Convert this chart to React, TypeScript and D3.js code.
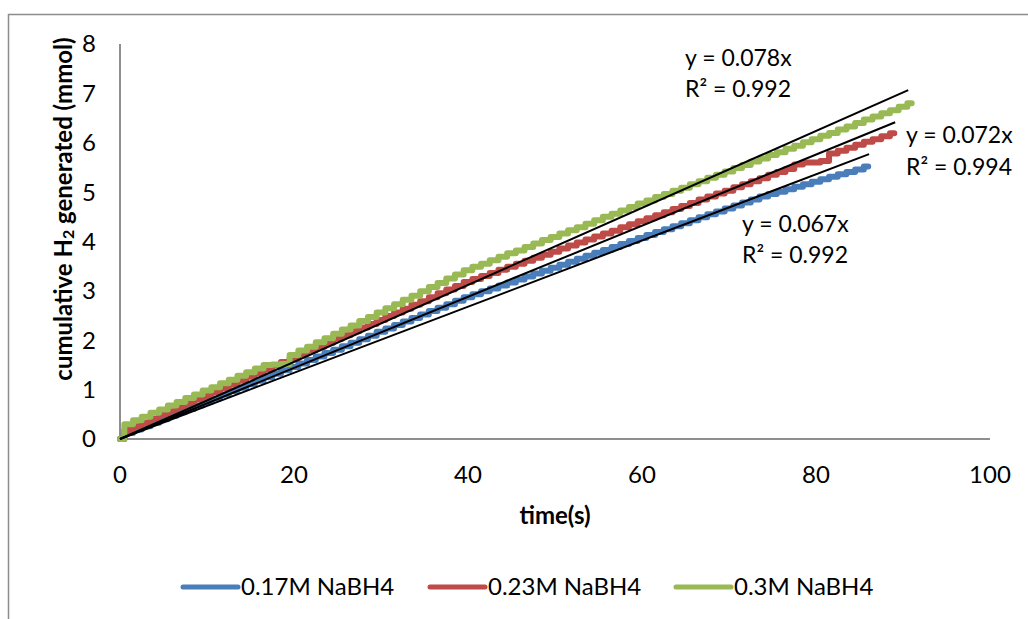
import React from "react";
import * as d3 from "d3";

const W = 1028;
const H = 619;

const blueVals = [0,0.12,0.19,0.26,0.33,0.40,0.47,0.54,0.61,0.68,0.75,0.82,0.90,0.97,1.04,1.11,1.18,1.25,1.32,1.39,1.46,1.53,1.60,1.67,1.74,1.81,1.88,1.95,2.02,2.09,2.17,2.24,2.31,2.38,2.45,2.52,2.59,2.66,2.73,2.80,2.87,2.93,2.99,3.05,3.11,3.17,3.23,3.29,3.35,3.41,3.47,3.53,3.59,3.65,3.71,3.77,3.83,3.89,3.95,4.01,4.07,4.13,4.19,4.25,4.31,4.37,4.43,4.49,4.55,4.61,4.67,4.73,4.79,4.85,4.91,4.96,5.01,5.06,5.11,5.16,5.21,5.26,5.31,5.36,5.41,5.46,5.52];
const redVals = [0,0.18,0.26,0.33,0.41,0.49,0.56,0.64,0.72,0.80,0.87,0.95,1.03,1.10,1.18,1.26,1.33,1.41,1.49,1.56,1.64,1.72,1.80,1.87,1.95,2.03,2.10,2.18,2.26,2.33,2.41,2.49,2.56,2.64,2.72,2.79,2.87,2.95,3.03,3.10,3.18,3.24,3.30,3.36,3.43,3.49,3.55,3.61,3.67,3.73,3.79,3.86,3.92,3.98,4.04,4.10,4.16,4.22,4.29,4.35,4.41,4.47,4.53,4.59,4.66,4.72,4.78,4.85,4.91,4.97,5.03,5.10,5.16,5.22,5.28,5.35,5.41,5.47,5.56,5.60,5.60,5.63,5.78,5.84,5.90,5.96,6.02,6.07,6.13,6.19];
const greenVals = [0,0.30,0.38,0.45,0.53,0.60,0.68,0.75,0.83,0.90,0.98,1.05,1.13,1.20,1.28,1.35,1.43,1.50,1.51,1.52,1.70,1.79,1.87,1.96,2.04,2.13,2.22,2.30,2.39,2.47,2.56,2.65,2.73,2.82,2.90,2.99,3.08,3.16,3.25,3.33,3.42,3.49,3.55,3.62,3.69,3.76,3.82,3.89,3.96,4.03,4.09,4.16,4.23,4.29,4.36,4.43,4.50,4.56,4.63,4.70,4.77,4.83,4.90,4.96,5.03,5.09,5.16,5.22,5.29,5.35,5.42,5.49,5.55,5.62,5.68,5.75,5.81,5.88,5.94,6.01,6.07,6.14,6.20,6.27,6.33,6.40,6.47,6.53,6.60,6.66,6.73,6.80];

const seriesNames = ["0.17M NaBH4", "0.23M NaBH4", "0.3M NaBH4"];
const seriesColors = ["#4A7EBB", "#BE4B48", "#98B954"];
const slopes = [0.067, 0.072, 0.078];
const r2 = ["0.992", "0.994", "0.992"];
const trendEnd = [86.1, 89.1, 90.6];
const xTicks = [0, 20, 40, 60, 80, 100];
const yTicks = [0, 1, 2, 3, 4, 5, 6, 7, 8];

const FONT = "Lato, 'Open Sans', sans-serif";

export default function App() {
  const x = d3.scaleLinear().domain([0, 100]).range([120, 990]);
  const y = d3.scaleLinear().domain([0, 8]).range([439, 44]);
  const all = [blueVals, redVals, greenVals];
  const line = d3
    .line<number>()
    .x((_, i) => x(i))
    .y((d) => y(d))
    .curve(d3.curveStep);

  const labelPos = [
    { x: 742, y1: 232, y2: 263 },
    { x: 906, y1: 143, y2: 175 },
    { x: 685, y1: 66, y2: 97 },
  ];
  const legendX = [183, 430, 676];

  return (
    <svg
      width={W}
      height={H}
      style={{ position: "absolute", left: 0, top: 0, background: "#fff" }}
      fontFamily={FONT}
    >
      <rect x={0} y={0} width={W} height={H} fill="#fff" />
      <path d="M8.5,700 L8.5,14.5 L1100,14.5" fill="none" stroke="#8c8c8c" strokeWidth={1.5} />
      {/* axes */}
      <line x1={x(0)} x2={x(100)} y1={y(0)} y2={y(0)} stroke="#8e8e8e" strokeWidth={2} />
      <line x1={x(0)} x2={x(0)} y1={y(0)} y2={y(8)} stroke="#8e8e8e" strokeWidth={2} />
      {yTicks.map((t) => (
        <text key={t} x={96} y={y(t)} dy="0.35em" textAnchor="end" fontSize={24} fill="#000">
          {t}
        </text>
      ))}
      {xTicks.map((t) => (
        <text key={t} x={x(t)} y={483} textAnchor="middle" fontSize={24} fill="#000">
          {t}
        </text>
      ))}
      <text x={555} y={524} textAnchor="middle" fontSize={24} fontWeight="bold">
        time(s)
      </text>
      <text
        transform="translate(72,209) rotate(-90)"
        textAnchor="middle"
        fontSize={24}
        fontWeight="bold"
      >
        cumulative H<tspan fontSize={16} dy={2}>2</tspan>
        <tspan dy={-2}> generated (mmol)</tspan>
      </text>
      {/* series */}
      {all.map((vals, i) => (
        <path
          key={i}
          d={line(vals) || ""}
          fill="none"
          stroke={seriesColors[i]}
          strokeWidth={6}
          strokeLinejoin="round"
          strokeLinecap="round"
        />
      ))}
      {/* trendlines */}
      {slopes.map((s, i) => (
        <line
          key={i}
          x1={x(0)}
          y1={y(0)}
          x2={x(trendEnd[i])}
          y2={y(s * trendEnd[i])}
          stroke="#000"
          strokeWidth={2}
        />
      ))}
      {slopes.map((s, i) => (
        <g key={i} fontSize={23}>
          <text x={labelPos[i].x} y={labelPos[i].y1}>{`y = ${s.toFixed(3)}x`}</text>
          <text x={labelPos[i].x} y={labelPos[i].y2}>{`R² = ${r2[i]}`}</text>
        </g>
      ))}
      {/* legend */}
      {seriesNames.map((n, i) => (
        <g key={n}>
          <line
            x1={legendX[i]}
            x2={legendX[i] + 55}
            y1={587}
            y2={587}
            stroke={seriesColors[i]}
            strokeWidth={5}
            strokeLinecap="round"
          />
          <text x={legendX[i] + 58} y={587} dy="0.35em" fontSize={24}>
            {n}
          </text>
        </g>
      ))}
    </svg>
  );
}
